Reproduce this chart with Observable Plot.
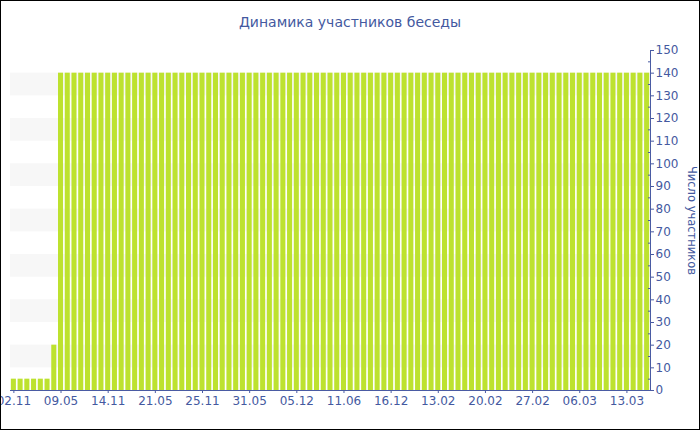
<!DOCTYPE html>
<html>
<head>
<meta charset="utf-8">
<script src="https://cdn.jsdelivr.net/npm/d3@7"></script>
<script src="https://cdn.jsdelivr.net/npm/@observablehq/plot@0.6"></script>
<style>
  html, body { margin: 0; padding: 0; background: #fff; }
  #wrap { position: relative; width: 698px; height: 428px; border: 1px solid #000; overflow: hidden; background: #fff; font-family: "DejaVu Sans", Verdana, sans-serif; }
  #title { height: 40px; line-height: 16px; box-sizing: border-box; text-align: center; font-size: 14px; color: #4459a0; position: relative; }
  #title span { position: absolute; left: 0; right: 0; top: 13px; }
  #chart svg { display: block; }
</style>
</head>
<body>
<div id="wrap">
  <div id="title"><span>Динамика участников беседы</span></div>
  <div id="chart"></div>
</div>
<script>
// Tick labels shown under every 7th bar
const tickLabels = ["02.11","09.05","14.11","21.05","25.11","31.05","05.12","11.06","16.12","13.02","20.02","27.02","06.03","13.03"];
// Number of participants per bar (95 bars)
const counts = [
  5,5,5,5,5,5,20,
  140,140,140,140,140,140,140,
  140,140,140,140,140,140,140,
  140,140,140,140,140,140,140,
  140,140,140,140,140,140,140,
  140,140,140,140,140,140,140,
  140,140,140,140,140,140,140,
  140,140,140,140,140,140,140,
  140,140,140,140,140,140,140,
  140,140,140,140,140,140,140,
  140,140,140,140,140,140,140,
  140,140,140,140,140,140,140,
  140,140,140,140,140,140,140,
  140,140,140,140
];
const yMajorTicks = [0,10,20,30,40,50,60,70,80,90,100,110,120,130,140,150];
const yMinorTicks = [5,15,25,35,45,55,65,75,85,95,105,115,125,135,145];
const bandLows = [10,30,50,70,90,110,130];
const yTitle = "Число участников";

const axisColor = "#4a5ba3";
const textColor = "#4459a0";

const data = counts.map((v, i) => ({i, v}));
const bands = bandLows.map(lo => ({lo, hi: lo + 10}));

const chart = Plot.plot({
  width: 698,
  height: 388,
  marginLeft: 9,
  marginRight: 49,
  marginTop: 9,
  marginBottom: 39,
  style: {background: "#fff", fontFamily: "DejaVu Sans, Verdana, sans-serif", fontSize: "12px", color: textColor, overflow: "hidden"},
  x: {type: "band", domain: data.map(d => d.i), paddingInner: 0.25, paddingOuter: 0.125, round: false, axis: null},
  y: {domain: [0, 150], axis: null},
  marks: [
    Plot.rect(bands, {y1: "lo", y2: "hi", fill: "#f7f7f7"}),
    Plot.barY(data, {x: "i", y: "v", fill: "#bde22f"}),
    Plot.ruleY([0], {stroke: axisColor}),
    Plot.frame({anchor: "right", stroke: axisColor}),
    Plot.axisX({
      ticks: d3.range(0, counts.length, 7),
      tickFormat: i => tickLabels[i / 7],
      tickSize: 3, tickPadding: 3, stroke: axisColor, fill: textColor, label: null, fontSize: 12
    }),
    Plot.axisY({
      anchor: "right", ticks: yMajorTicks, tickSize: 3, tickPadding: 2,
      stroke: axisColor, fill: textColor, label: null, fontSize: 12
    }),
    Plot.axisY({
      anchor: "right", ticks: yMinorTicks, tickSize: 3, dx: -3,
      tickFormat: () => "", stroke: axisColor, label: null
    }),
    Plot.text([yTitle], {
      frameAnchor: "right", text: d => d, rotate: 90, dx: 41, textAnchor: "middle",
      fill: textColor, fontSize: 11.5
    })
  ]
});
document.getElementById("chart").appendChild(chart);
</script>
</body>
</html>
